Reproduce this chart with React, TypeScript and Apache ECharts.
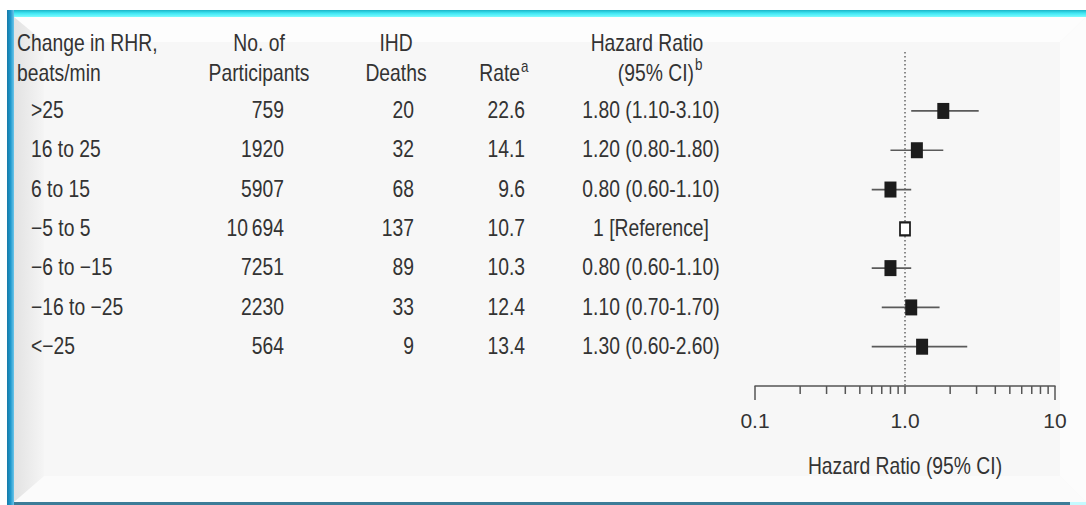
import React, { useEffect, useRef } from "react";
import * as echarts from "echarts";

// ---------- data ----------
const rhrLabels = [">25", "16 to 25", "6 to 15", "\u22125 to 5", "\u22126 to \u221215", "\u221216 to \u221225", "<\u221225"];
const participants = [759, 1920, 5907, 10694, 7251, 2230, 564];
const ihdDeaths = [20, 32, 68, 137, 89, 33, 9];
const rates = [22.6, 14.1, 9.6, 10.7, 10.3, 12.4, 13.4];
const hazardRatio = [1.8, 1.2, 0.8, 1, 0.8, 1.1, 1.3];
const ciLow: (number | null)[] = [1.1, 0.8, 0.6, null, 0.6, 0.7, 0.6];
const ciHigh: (number | null)[] = [3.1, 1.8, 1.1, null, 1.1, 1.7, 2.6];
const tickValues = [0.1, 1, 10];
const tickLabels = ["0.1", "1.0", "10"];
const majorTicks = [0.1, 10];
const minorTicks = [0.2, 0.3, 0.4, 0.5, 0.6, 0.7, 0.8, 0.9, 1, 2, 3, 4, 5, 6, 7, 8, 9];
const axisTitle = "Hazard Ratio (95% CI)";

// ---------- layout ----------
const Y_MIN = -0.5;
const Y_MAX = 8;
const FONT = '"Liberation Sans", Arial, sans-serif';
const FS = 23;
const SX = 0.84;
const TXT = "#333333";

function fmtInt(n: number) {
  const s = String(n);
  return n >= 10000 ? s.slice(0, s.length - 3) + "\u2009" + s.slice(-3) : s;
}
function fmtCI(i: number) {
  const lo = ciLow[i], hi = ciHigh[i];
  if (lo === null || hi === null) return "1 [Reference]";
  return `${hazardRatio[i].toFixed(2)} (${lo.toFixed(2)}-${hi.toFixed(2)})`;
}

function txt(text: string, x: number, y: number, align: string, fontSize: number = FS) {
  return {
    type: "text",
    x,
    y,
    scaleX: SX,
    z: 10,
    silent: true,
    style: {
      text,
      fill: TXT,
      fontSize,
      fontFamily: FONT,
      align,
      verticalAlign: "middle",
    },
  };
}

export default function App() {
  const ref = useRef<HTMLDivElement>(null);

  useEffect(() => {
    if (!ref.current) return;
    const chart = echarts.init(ref.current, undefined, { renderer: "svg" });

    const rows = hazardRatio.map((_, i) => i + 1);
    const filled = hazardRatio
      .map((v, i) => (ciLow[i] === null ? null : [v, rows[i]]))
      .filter((d) => d !== null);
    const refPts = hazardRatio
      .map((v, i) => (ciLow[i] === null ? [v, rows[i]] : null))
      .filter((d) => d !== null);
    const ciData = hazardRatio
      .map((_, i) => (ciLow[i] === null ? null : [ciLow[i], ciHigh[i], rows[i]]))
      .filter((d) => d !== null);
    const tickData = [...majorTicks, ...minorTicks].map((v) => [v, Y_MAX]);

    const labelFor = (v: number) => {
      const k = tickValues.findIndex((t) => Math.abs(Math.log10(t) - Math.log10(v)) < 1e-6);
      return k >= 0 ? tickLabels[k] : "";
    };

    const option: any = {
      animation: false,
      backgroundColor: "#ffffff",
      grid: { left: 755, right: 31, top: 52, bottom: 119, containLabel: false },
      xAxis: {
        type: "log",
        logBase: 10,
        min: 0.1,
        max: 10,
        axisLine: { show: true, onZero: false, lineStyle: { color: "#555555", width: 1.5 } },
        axisTick: { show: false },
        minorTick: { show: false },
        splitLine: { show: false },
        axisLabel: {
          formatter: (v: number) => labelFor(v),
          fontSize: 21,
          color: TXT,
          fontFamily: FONT,
          margin: 24,
        },
      },
      yAxis: { type: "value", min: Y_MIN, max: Y_MAX, inverse: true, show: false },
      series: [
        {
          type: "custom",
          name: "ci",
          z: 3,
          data: ciData,
          encode: { x: [0, 1], y: 2 },
          renderItem: (_p: any, api: any) => {
            const a = api.coord([api.value(0), api.value(2)]);
            const b = api.coord([api.value(1), api.value(2)]);
            return {
              type: "line",
              shape: { x1: a[0], y1: a[1], x2: b[0], y2: b[1] },
              style: { stroke: "#5a5a5a", lineWidth: 1.7 },
            };
          },
        },
        {
          type: "custom",
          name: "ticks",
          z: 3,
          clip: false,
          data: tickData,
          encode: { x: 0, y: 1 },
          renderItem: (_p: any, api: any) => {
            const v = api.value(0);
            const p = api.coord([v, api.value(1)]);
            const len = majorTicks.includes(v) ? 14 : 8;
            return {
              type: "line",
              shape: { x1: p[0], y1: p[1], x2: p[0], y2: p[1] + len },
              style: { stroke: "#555555", lineWidth: 1.5 },
            };
          },
        },
        {
          type: "scatter",
          name: "hr",
          z: 5,
          symbol: "rect",
          symbolSize: [12, 16],
          itemStyle: { color: "#1c1c1c", opacity: 1 },
          data: filled,
        },
        {
          type: "scatter",
          name: "ref",
          z: 5,
          symbol: "rect",
          symbolSize: [10, 13],
          itemStyle: { color: "#ffffff", borderColor: "#1c1c1c", borderWidth: 2, opacity: 1 },
          data: refPts,
          markLine: {
            silent: true,
            symbol: "none",
            label: { show: false },
            lineStyle: { color: "#666666", width: 1.5, type: [1.5, 2.5] },
            data: [{ xAxis: 1 }],
          },
        },
      ],
    };
    chart.setOption(option);

    const rowY = rows.map((r) => chart.convertToPixel({ yAxisIndex: 0 }, r) as number);
    const axisMidX = chart.convertToPixel({ xAxisIndex: 0 }, 1) as number;

    const frame: any[] = [
      { type: "rect", z: -100, shape: { x: 14, y: 17, width: 1072, height: 485 }, style: { fill: "#f7f7f7" } },
      { type: "polygon", z: -99, shape: { points: [[14, 17], [1086, 17], [1060, 42], [44, 42]] }, style: { fill: "#fdfdfd" } },
      { type: "polygon", z: -99, shape: { points: [[1086, 17], [1086, 502], [1060, 476], [1060, 42]] }, style: { fill: "#fcfcfc" } },
      { type: "polygon", z: -99, shape: { points: [[14, 502], [1086, 502], [1060, 476], [44, 476]] }, style: { fill: "#fbfbfb" } },
      {
        type: "polygon",
        z: -98,
        shape: { points: [[14, 17], [44, 42], [44, 476], [14, 502]] },
        style: {
          fill: new echarts.graphic.LinearGradient(0, 0, 1, 0, [
            { offset: 0, color: "#e2e2e2" },
            { offset: 1, color: "#f5f5f5" },
          ]),
        },
      },
      {
        type: "rect",
        z: -97,
        shape: { x: 7, y: 10, width: 1079, height: 7 },
        style: {
          fill: new echarts.graphic.LinearGradient(0, 0, 0, 1, [
            { offset: 0, color: "#1ab4c6" },
            { offset: 0.45, color: "#3fe6f3" },
            { offset: 1, color: "#7dfdff" },
          ]),
        },
      },
      {
        type: "rect",
        z: -96,
        shape: { x: 7, y: 10, width: 7, height: 495 },
        style: {
          fill: new echarts.graphic.LinearGradient(0, 0, 1, 0, [
            { offset: 0, color: "#167aa8" },
            { offset: 0.5, color: "#1f98cc" },
            { offset: 1, color: "#6cc6ea" },
          ]),
        },
      },
      { type: "rect", z: -96, shape: { x: 14, y: 502, width: 1056, height: 3 }, style: { fill: "#3c7c98" } },
      { type: "rect", z: -96, shape: { x: 1070, y: 502, width: 16, height: 3 }, style: { fill: "#c4fbff" } },
    ];

    const texts: any[] = [
      txt("Change in RHR,", 17, 43, "left"),
      txt("beats/min", 17, 73, "left"),
      txt("No. of", 259, 43, "center"),
      txt("Participants", 259, 73, "center"),
      txt("IHD", 396, 43, "center"),
      txt("Deaths", 396, 73, "center"),
      txt("Rate", 520, 73, "right"),
      txt("a", 521, 67, "left", 16),
      txt("Hazard Ratio", 647, 43, "center"),
      txt("(95% CI)", 694, 73, "right"),
      txt("b", 695, 65, "left", 16),
      txt(axisTitle, axisMidX, 466, "center"),
    ];
    rows.forEach((_, i) => {
      const y = rowY[i] - 1;
      texts.push(txt(rhrLabels[i], 31, y, "left"));
      texts.push(txt(fmtInt(participants[i]), 284, y, "right"));
      texts.push(txt(String(ihdDeaths[i]), 414, y, "right"));
      texts.push(txt(rates[i].toFixed(1), 525, y, "right"));
      texts.push(txt(fmtCI(i), 651, y, "center"));
    });

    chart.setOption({ graphic: { elements: [...frame, ...texts] } });

    return () => chart.dispose();
  }, []);

  return (
    <div
      ref={ref}
      style={{ position: "absolute", left: 0, top: 0, width: 1086, height: 505 }}
    />
  );
}
